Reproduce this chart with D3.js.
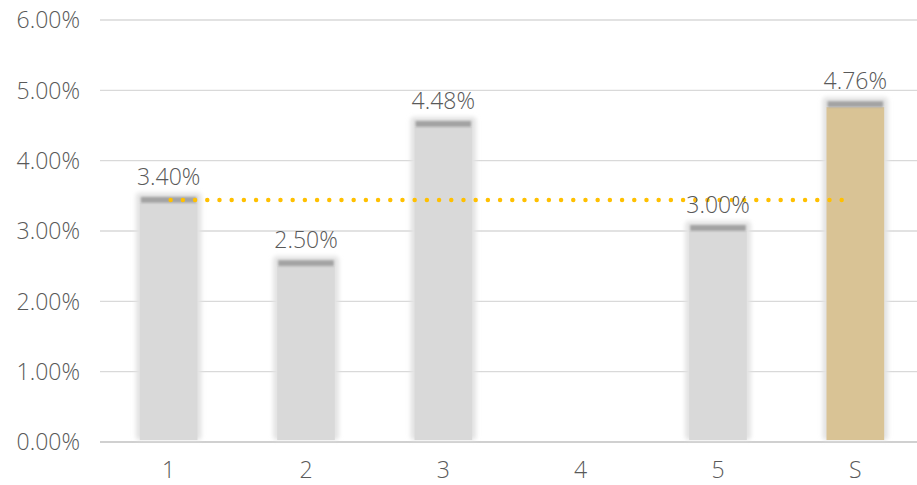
<!DOCTYPE html>
<html>
<head>
<meta charset="utf-8">
<script src="https://cdn.jsdelivr.net/npm/d3@7"></script>
<style>
  body { margin: 0; background: #fff; }
  text { font-family: "Open Sans", Lato, sans-serif; font-weight: 300; fill: #595959; }
</style>
</head>
<body>
<div id="app"></div>
<script>
const categories = ["1", "2", "3", "4", "5", "S"];
const values = [3.40, 2.50, 4.48, null, 3.00, 4.76];
const labels = ["3.40%", "2.50%", "4.48%", "", "3.00%", "4.76%"];
const yTicks = [0, 1, 2, 3, 4, 5, 6];
const targetValue = 3.44;

const chart = () => {
  const width = 917;
  const height = 485;
  const marginTop = 20;
  const marginBottom = 43;
  const marginLeft = 100;
  const marginRight = -7;
  const fontSize = 23;

  const svg = d3.create("svg").attr("width", width).attr("height", height);

  const defs = svg.append("defs");
  defs.append("filter").attr("id", "glow")
    .attr("x", "-20%").attr("y", "-20%").attr("width", "140%").attr("height", "140%")
    .append("feGaussianBlur").attr("stdDeviation", 2.2);
  defs.append("filter").attr("id", "soft")
    .attr("x", "-20%").attr("y", "-50%").attr("width", "140%").attr("height", "200%")
    .append("feGaussianBlur").attr("stdDeviation", 1.2);

  const x = d3.scaleBand()
    .domain(categories)
    .range([marginLeft, width - marginRight])
    .paddingInner(0.58)
    .paddingOuter(0.29);

  const y = d3.scaleLinear()
    .domain([0, 6])
    .range([height - marginBottom, marginTop]);

  // gridlines
  svg.append("g")
    .selectAll("line")
    .data(yTicks)
    .join("line")
    .attr("x1", marginLeft)
    .attr("x2", width)
    .attr("y1", d => y(d))
    .attr("y2", d => y(d))
    .attr("stroke", d => d === 0 ? "#d0d0d0" : "#d9d9d9")
    .attr("stroke-width", d => d === 0 ? 2 : 1.3);

  // y labels
  svg.append("g")
    .selectAll("text")
    .data(yTicks)
    .join("text")
    .attr("x", 80)
    .attr("y", d => y(d))
    .attr("dy", "0.36em")
    .attr("text-anchor", "end")
    .attr("font-size", fontSize)
    .text(d => d.toFixed(2) + "%");

  // x labels
  svg.append("g")
    .selectAll("text")
    .data(categories)
    .join("text")
    .attr("x", d => x(d) + x.bandwidth() / 2)
    .attr("y", 478)
    .attr("text-anchor", "middle")
    .attr("font-size", fontSize)
    .text(d => d);

  const bars = categories
    .map((c, i) => ({ c, v: values[i], label: labels[i] }))
    .filter(d => d.v != null);

  const g = svg.append("g");

  // soft glow behind bars
  g.selectAll("rect.glow")
    .data(bars)
    .join("rect")
    .attr("class", "glow")
    .attr("x", d => x(d.c) - 4)
    .attr("y", d => y(d.v) - 10)
    .attr("width", x.bandwidth() + 8)
    .attr("height", d => y(0) - y(d.v) + 8)
    .attr("rx", 4)
    .attr("fill", "#e3e3e3")
    .attr("filter", "url(#glow)");

  g.selectAll("rect.bar")
    .data(bars)
    .join("rect")
    .attr("class", "bar")
    .attr("x", d => x(d.c))
    .attr("y", d => y(d.v))
    .attr("width", x.bandwidth())
    .attr("height", d => y(0) - y(d.v) - 2)
    .attr("fill", d => d.c === "S" ? "#d9c395" : "#d9d9d9");

  // darker cap on top
  g.selectAll("rect.cap")
    .data(bars)
    .join("rect")
    .attr("class", "cap")
    .attr("x", d => x(d.c) + 1)
    .attr("y", d => y(d.v) - 6)
    .attr("width", x.bandwidth() - 2)
    .attr("height", 6)
    .attr("fill", "#a3a3a3")
    .attr("filter", "url(#soft)");

  // target dotted line
  svg.append("line")
    .attr("x1", x("1") + x.bandwidth() / 2 + 2)
    .attr("x2", x("S") + x.bandwidth() / 2 - 8)
    .attr("y1", y(targetValue))
    .attr("y2", y(targetValue))
    .attr("stroke", "#ffc000")
    .attr("stroke-width", 4.5)
    .attr("stroke-linecap", "round")
    .attr("stroke-dasharray", "0 12.2");

  // value labels
  svg.append("g")
    .selectAll("text")
    .data(bars)
    .join("text")
    .attr("x", d => x(d.c) + x.bandwidth() / 2)
    .attr("y", d => y(d.v) - 18)
    .attr("text-anchor", "middle")
    .attr("font-size", fontSize)
    .text(d => d.label);

  return svg.node();
};

d3.select("#app").append(chart);
</script>
</body>
</html>
